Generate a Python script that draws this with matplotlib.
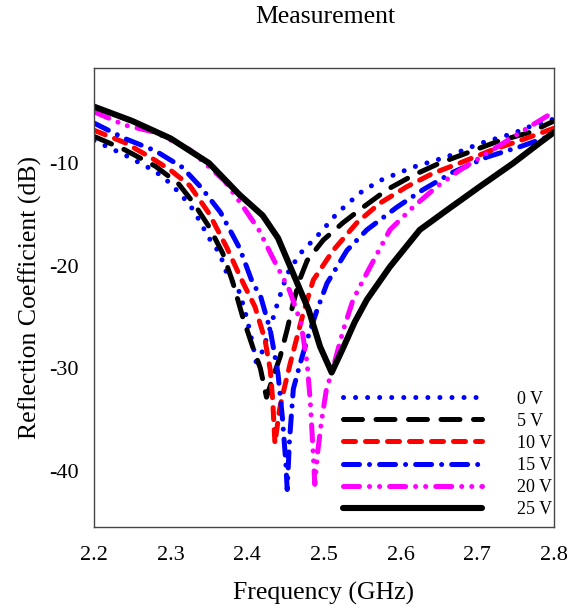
import matplotlib
matplotlib.use("Agg")
import matplotlib.pyplot as plt

plt.rcParams['font.family'] = ['Liberation Serif', 'DejaVu Serif']
plt.rcParams['axes.unicode_minus'] = False

# values (GHz, dB)
freq_0v = [2.20, 2.24, 2.28, 2.30, 2.316, 2.33, 2.35, 2.364, 2.373, 2.39, 2.40, 2.408,
           2.413, 2.42, 2.43, 2.44, 2.452, 2.469, 2.495, 2.517, 2.547, 2.573, 2.616,
           2.66, 2.703, 2.747, 2.77, 2.80]
s11_0v = [-7.8, -9.2, -10.8, -12.0, -13.3, -14.6, -17.3, -18.8, -20.7, -22.6, -25.3, -28.0,
          -30.0, -28.2, -26.0, -23.5, -20.8, -18.8, -16.8, -14.9, -12.9, -11.7, -10.4,
          -9.4, -8.1, -7.1, -6.4, -5.7]

freq_5v = [2.20, 2.24, 2.28, 2.31, 2.33, 2.35, 2.368, 2.381, 2.394, 2.407, 2.417, 2.425,
           2.433, 2.443, 2.452, 2.46, 2.468, 2.478, 2.499, 2.525, 2.551, 2.582, 2.616,
           2.651, 2.687, 2.726, 2.769, 2.80]
s11_5v = [-7.4, -8.7, -10.3, -12.0, -13.9, -16.2, -18.8, -21.6, -25.0, -27.9, -30.0, -32.8,
          -31.0, -28.8, -26.2, -23.6, -21.4, -19.5, -17.5, -15.8, -14.3, -12.6, -11.2,
          -10.0, -9.0, -7.9, -7.0, -5.9]

freq_10v = [2.20, 2.24, 2.275, 2.30, 2.325, 2.35, 2.373, 2.394, 2.41, 2.423, 2.43, 2.433,
            2.436, 2.442, 2.447, 2.456, 2.465, 2.473, 2.486, 2.512, 2.543, 2.573, 2.608,
            2.642, 2.677, 2.72, 2.756, 2.80]
s11_10v = [-6.8, -8.0, -9.5, -10.7, -12.2, -14.9, -18.2, -21.6, -24.0, -27.2, -30.2, -33.0,
           -37.3, -34.0, -32.3, -29.5, -26.9, -24.6, -21.4, -18.5, -15.8, -13.9, -12.3,
           -11.0, -10.0, -8.7, -7.8, -6.6]

freq_15v = [2.20, 2.24, 2.28, 2.315, 2.34, 2.365, 2.39, 2.407, 2.417, 2.43, 2.44, 2.446,
            2.45, 2.452, 2.455, 2.46, 2.469, 2.478, 2.491, 2.504, 2.53, 2.556, 2.595,
            2.629, 2.668, 2.713, 2.756, 2.79, 2.80]
s11_15v = [-6.1, -7.6, -8.8, -10.4, -12.4, -14.8, -18.3, -21.7, -22.9, -26.3, -30.5, -35.0,
           -39.0, -41.8, -37.0, -32.0, -29.5, -27.2, -24.3, -21.7, -18.5, -16.5, -14.3,
           -12.6, -10.9, -9.4, -8.4, -7.5, -7.0]

freq_20v = [2.20, 2.24, 2.28, 2.325, 2.37, 2.395, 2.415, 2.435, 2.455, 2.47, 2.478, 2.482,
            2.485, 2.488, 2.492, 2.497, 2.503, 2.512, 2.525, 2.538, 2.556, 2.586, 2.616,
            2.647, 2.677, 2.72, 2.75, 2.80]
s11_20v = [-5.0, -6.3, -7.0, -8.7, -11.7, -14.3, -16.5, -19.5, -22.4, -25.6, -29.5, -33.1,
           -37.0, -41.3, -38.0, -35.0, -32.1, -29.9, -26.3, -23.3, -20.7, -16.5, -14.3,
           -12.3, -10.7, -8.7, -7.3, -5.0]

freq_25v = [2.20, 2.25, 2.30, 2.35, 2.39, 2.42, 2.44, 2.46, 2.48, 2.495, 2.51, 2.525,
            2.54, 2.556, 2.586, 2.625, 2.66, 2.703, 2.747, 2.782, 2.80]
s11_25v = [-4.5, -5.9, -7.6, -10.0, -13.1, -15.1, -17.3, -20.8, -24.3, -27.9, -30.4, -28.0,
           -25.5, -23.3, -20.1, -16.5, -14.6, -12.3, -10.0, -8.0, -7.0]

labels = ['0 V', '5 V', '10 V', '15 V', '20 V', '25 V']

fig = plt.figure(figsize=(5.77, 6.14), dpi=100)
ax = fig.add_axes([0.163, 0.1417, 0.797, 0.7473])

lw = 3.6
ax.plot(freq_0v, s11_0v, color='#0000ff', lw=lw, dashes=(0.01, 2.4),
        dash_capstyle='round', label=labels[0])
ax.plot(freq_5v, s11_5v, color='black', lw=lw, dashes=(3.8, 2.7),
        dash_capstyle='round', label=labels[1])
ax.plot(freq_10v, s11_10v, color='#ff0000', lw=lw, dashes=(2.4, 2.0),
        dash_capstyle='round', label=labels[2])
ax.plot(freq_15v, s11_15v, color='#0000ff', lw=lw, dashes=(3.2, 2.0, 0.01, 2.0),
        dash_capstyle='round', label=labels[3])
ax.plot(freq_20v, s11_20v, color='#ff00ff', lw=lw,
        dashes=(3.2, 2.0, 0.01, 2.0, 0.01, 2.0),
        dash_capstyle='round', label=labels[4])
ax.plot(freq_25v, s11_25v, color='black', lw=4.4, solid_capstyle='round',
        solid_joinstyle='round', label=labels[5])

ax.set_xlim(2.2, 2.8)
ax.set_ylim(-45.45, -0.75)
ax.set_xticks([2.2, 2.3, 2.4, 2.5, 2.6, 2.7, 2.8])
ax.set_yticks([-10, -20, -30, -40])
ax.tick_params(length=0, labelsize=16)
ax.tick_params(axis='x', pad=14)
ax.tick_params(axis='y', pad=11)
for s in ax.spines.values():
    s.set_color('#444444')
    s.set_linewidth(1.0)

ax.set_xlabel('Frequency (GHz)', fontsize=18.5, labelpad=12)
ax.set_ylabel('Reflection Coefficient (dB)', fontsize=18.5, labelpad=5)
fig.text(0.563, 0.972, 'Measurement', ha='center', va='center', fontsize=18.5)

ax.legend(loc='lower right', bbox_to_anchor=(1.015, 0.0), frameon=False,
          fontsize=13, handlelength=7.7, handletextpad=1.9, labelspacing=0.28,
          borderaxespad=0.1)

fig.savefig('out.png', dpi=100)
